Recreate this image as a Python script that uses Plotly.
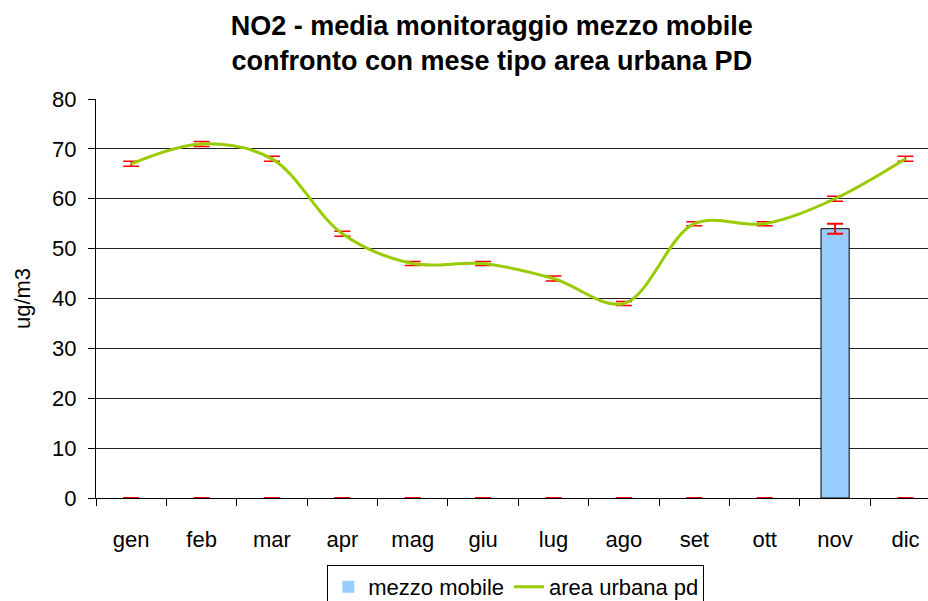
import plotly.graph_objects as go

months = ["gen", "feb", "mar", "apr", "mag", "giu", "lug", "ago", "set", "ott", "nov", "dic"]
mezzo_mobile = [0, 0, 0, 0, 0, 0, 0, 0, 0, 0, 54, 0]
mezzo_err = [0, 0, 0, 0, 0, 0, 0, 0, 0, 0, 1, 0]
area_urbana = [67, 71, 68, 53, 47, 47, 44, 39, 55, 55, 60, 68]
area_err = [0.5, 0.5, 0.5, 0.5, 0.4, 0.4, 0.5, 0.4, 0.4, 0.4, 0.5, 0.5]

FONT = "Liberation Sans, Arial, sans-serif"

bar_outline = [1 if v > 0 else 0 for v in mezzo_mobile]

fig = go.Figure()
fig.add_trace(go.Bar(
    x=months, y=mezzo_mobile, name="mezzo mobile", width=0.4,
    marker=dict(color="#99CCFF", line=dict(color="#000000", width=bar_outline)),
))
fig.add_trace(go.Scatter(
    x=months, y=area_urbana, name="area urbana pd", mode="lines",
    line=dict(color="#99CC00", width=3, shape="spline", smoothing=1.0),
    error_y=dict(type="data", array=area_err, visible=True, color="#FF0000", thickness=1.5, width=8),
))
# error bars of the "mezzo mobile" series, drawn on top of the axis line
fig.add_trace(go.Scatter(
    x=months, y=mezzo_mobile, mode="markers", showlegend=False, hoverinfo="skip",
    marker=dict(size=1, opacity=0), cliponaxis=False,
    error_y=dict(type="data", array=mezzo_err, visible=True, color="#FF0000", thickness=2, width=8),
))

fig.update_layout(
    width=928, height=601,
    margin=dict(l=96, r=0, t=99, b=103, autoexpand=False),
    paper_bgcolor="white", plot_bgcolor="white",
    font=dict(family=FONT, size=22, color="#000"),
    title=dict(
        text="NO2 - media monitoraggio mezzo mobile<br>confronto con mese tipo area urbana PD",
        x=0.530, xanchor="center", y=0.942, yanchor="middle",
        font=dict(family=FONT, size=27, color="#000", weight="bold"),
    ),
    showlegend=True,
    legend=dict(
        orientation="h", x=0.278, xanchor="left",
        yref="container", y=1 - 565 / 601, yanchor="top",
        bordercolor="#000", borderwidth=1, font=dict(size=22), traceorder="normal",
        bgcolor="white",
    ),
    bargap=0.6,
)
fig.update_xaxes(
    range=[-0.5, 11.32], showline=True, linecolor="#000", linewidth=1,
    ticks="outside", tickson="boundaries", ticklen=7, tickcolor="#000",
    showgrid=False, tickfont=dict(size=22), ticklabelstandoff=22,
    layer="below traces",
)
fig.update_yaxes(
    range=[0, 80], dtick=10, showline=True, linecolor="#000", linewidth=1,
    ticks="outside", ticklen=7, tickcolor="#000",
    showgrid=True, gridcolor="#222", gridwidth=1, zeroline=False,
    tickfont=dict(size=22), ticklabelstandoff=7,
    title=dict(text="ug/m3", font=dict(size=22), standoff=15),
)

fig.write_html(
    "out.html",
    config={"displayModeBar": False},
    post_script="document.body.style.margin='0';document.body.style.padding='0';document.body.style.overflow='hidden';",
)
